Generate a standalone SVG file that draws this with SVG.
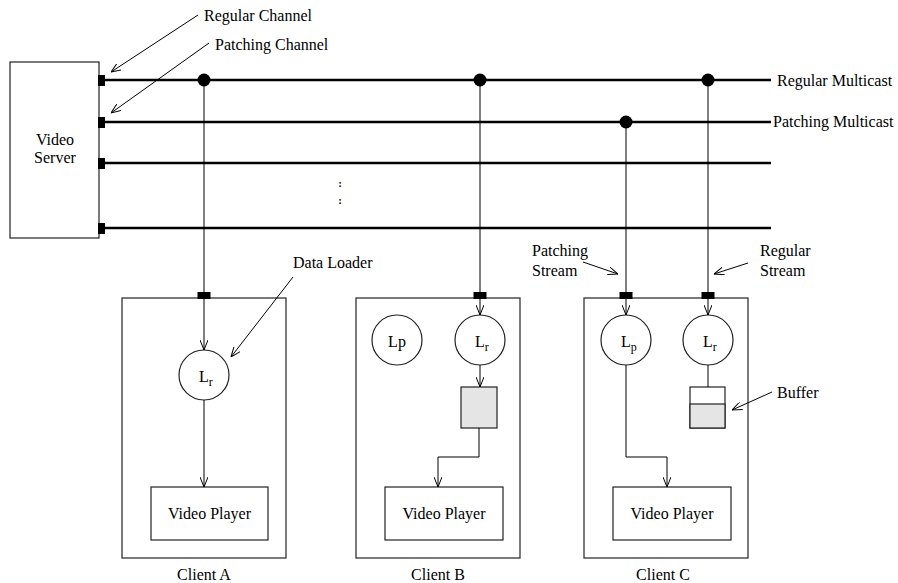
<svg xmlns="http://www.w3.org/2000/svg" width="898" height="583" viewBox="0 0 898 583">
<defs>
<marker id="arr" viewBox="0 0 10 8" refX="10" refY="4" markerWidth="10" markerHeight="8" markerUnits="userSpaceOnUse" orient="auto">
<path d="M0,0 L10,4 L0,8" fill="none" stroke="#000" stroke-width="1"/>
</marker>
</defs>
<style>
text{font-family:"Liberation Serif","Times New Roman",serif;font-size:16px;fill:#000}
.mid{text-anchor:middle}
.bus{stroke:#000;stroke-width:2.6;fill:none}
.thin{stroke:#000;stroke-width:1;fill:none}
.arrow{stroke:#000;stroke-width:1;fill:none;marker-end:url(#arr)}
.box{fill:#fff;stroke:#222;stroke-width:1.2}
.frame{fill:none;stroke:#222;stroke-width:1.2}
.port{fill:#000}
.gray{fill:#e5e5e5;stroke:#222;stroke-width:1.2}
.sub{font-size:12px}
.dots{font-size:11px;font-weight:bold}
</style>
<rect width="898" height="583" fill="#fff"/>

<g id="server">
<rect class="box" x="10" y="62" width="89" height="176"/>
<rect class="port" x="98" y="75" width="7" height="11"/>
<rect class="port" x="98" y="117" width="7" height="11"/>
<rect class="port" x="98" y="158" width="7" height="11"/>
<rect class="port" x="98" y="223" width="7" height="11"/>
<text class="mid" x="55" y="145">Video</text>
<text class="mid" x="55" y="163">Server</text>
</g>

<g id="labels">
<text x="204" y="21">Regular Channel</text>
<text x="215" y="50">Patching Channel</text>
<text x="777" y="86">Regular Multicast</text>
<text x="773" y="127">Patching Multicast</text>
<text x="293" y="268">Data Loader</text>
<text x="532" y="256">Patching</text>
<text x="532" y="276">Stream</text>
<text x="760" y="256">Regular</text>
<text x="760" y="276">Stream</text>
<text x="777" y="398">Buffer</text>
</g>

<g id="clientA">
<rect class="frame" x="122" y="298" width="164" height="260"/>
<rect class="port" x="197.5" y="292" width="13" height="7"/>
<circle class="box" cx="204" cy="375" r="25"/>
<text x="199" y="382">L<tspan class="sub" dy="4">r</tspan></text>
<rect class="box" x="151" y="487" width="117" height="53"/>
<text class="mid" x="209.5" y="519">Video Player</text>
<text class="mid" x="204" y="580">Client A</text>
</g>

<g id="clientB">
<rect class="frame" x="356" y="298" width="164" height="260"/>
<rect class="port" x="473.5" y="292" width="13" height="7"/>
<circle class="box" cx="397" cy="340" r="25"/>
<text class="mid" x="397" y="347">Lp</text>
<circle class="box" cx="480" cy="340" r="25"/>
<text x="475" y="347">L<tspan class="sub" dy="4">r</tspan></text>
<rect class="gray" x="461" y="387" width="36" height="41"/>
<rect class="box" x="385" y="487" width="118" height="53"/>
<text class="mid" x="444" y="519">Video Player</text>
<text class="mid" x="438" y="580">Client B</text>
</g>

<g id="clientC">
<rect class="frame" x="584" y="298" width="164" height="260"/>
<rect class="port" x="619.5" y="292" width="13" height="7"/>
<rect class="port" x="701.5" y="292" width="13" height="7"/>
<circle class="box" cx="626" cy="340" r="25"/>
<text x="621" y="347">L<tspan class="sub" dy="4">p</tspan></text>
<circle class="box" cx="708" cy="340" r="25"/>
<text x="703" y="347">L<tspan class="sub" dy="4">r</tspan></text>
<rect class="box" x="690" y="387" width="35" height="41"/>
<rect class="gray" x="690" y="404" width="35" height="24"/>
<rect class="box" x="613" y="487" width="118" height="53"/>
<text class="mid" x="672" y="519">Video Player</text>
<text class="mid" x="663" y="580">Client C</text>
</g>

<g id="connectors">
<line class="bus" x1="105" y1="80" x2="771" y2="80"/>
<line class="bus" x1="105" y1="122" x2="771" y2="122"/>
<line class="bus" x1="105" y1="163" x2="771" y2="163"/>
<line class="bus" x1="105" y1="228" x2="771" y2="228"/>
<circle cx="204" cy="80" r="6.5"/>
<circle cx="480" cy="80" r="6.5"/>
<circle cx="708" cy="80" r="6.5"/>
<circle cx="626" cy="122" r="6.5"/>
<line class="arrow" x1="204" y1="86" x2="204" y2="350"/>
<line class="arrow" x1="480" y1="86" x2="480" y2="315"/>
<line class="arrow" x1="708" y1="86" x2="708" y2="315"/>
<line class="arrow" x1="626" y1="128" x2="626" y2="315"/>
<line class="arrow" x1="204" y1="400" x2="204" y2="487"/>
<line class="arrow" x1="480" y1="365" x2="480" y2="387"/>
<path class="arrow" d="M479,428 V457 H438 V487"/>
<line class="thin" x1="708" y1="365" x2="708" y2="387"/>
<path class="arrow" d="M626,365 V457 H667 V487"/>
<line class="arrow" x1="198" y1="15" x2="111" y2="72"/>
<line class="arrow" x1="209" y1="43" x2="111" y2="113"/>
<line class="arrow" x1="293" y1="277" x2="231" y2="357"/>
<line class="arrow" x1="583" y1="262" x2="618" y2="274"/>
<line class="arrow" x1="748" y1="263" x2="714" y2="274"/>
<line class="arrow" x1="772" y1="392" x2="732" y2="410"/>
<text class="dots mid" x="340" y="187">:</text>
<text class="dots mid" x="340" y="204">:</text>
</g>
</svg>
